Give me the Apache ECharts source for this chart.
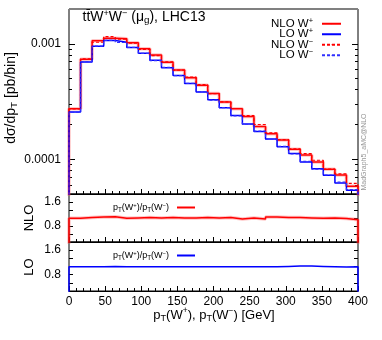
<!DOCTYPE html>
<html>
<head>
<meta charset="utf-8">
<script src="https://cdn.jsdelivr.net/npm/echarts@6/dist/echarts.min.js"></script>
<style>
html, body { margin: 0; padding: 0; background: #fff; }
#chart { width: 382px; height: 340px; }
</style>
</head>
<body>
<div id="chart"></div>
<script>
// 25 bins of 16 GeV
const binEdges = [0, 16, 32, 48, 64, 80, 96, 112, 128, 144, 160, 176, 192, 208, 224, 240, 256, 272, 288, 304, 320, 336, 352, 368, 384, 400];

// dsigma/dpT [pb/bin]
const nloWplus = [2.73e-4, 7.36e-4, 1.062e-3, 1.117e-3, 1.106e-3, 1.020e-3, 9.04e-4, 8.01e-4, 6.92e-4, 5.92e-4, 5.07e-4, 4.38e-4, 3.70e-4, 3.13e-4, 2.74e-4, 2.35e-4, 1.92e-4, 1.66e-4, 1.47e-4, 1.22e-4, 1.09e-4, 9.47e-5, 8.18e-5, 7.29e-5, 5.84e-5];
const loWplus = [2.57e-4, 6.96e-4, 9.51e-4, 1.067e-3, 1.030e-3, 9.28e-4, 8.29e-4, 7.19e-4, 6.21e-4, 5.32e-4, 4.53e-4, 3.83e-4, 3.28e-4, 2.79e-4, 2.39e-4, 2.02e-4, 1.74e-4, 1.50e-4, 1.28e-4, 1.12e-4, 9.46e-5, 8.28e-5, 7.25e-5, 6.24e-5, 5.39e-5];
const nloWminus = [2.73e-4, 7.39e-4, 1.031e-3, 1.151e-3, 1.095e-3, 1.010e-3, 8.95e-4, 7.90e-4, 6.96e-4, 5.92e-4, 5.14e-4, 4.42e-4, 3.69e-4, 3.14e-4, 2.75e-4, 2.39e-4, 2.00e-4, 1.69e-4, 1.48e-4, 1.23e-4, 1.12e-4, 9.80e-5, 8.23e-5, 7.48e-5, 6.17e-5];
const loWminus = [2.55e-4, 7.00e-4, 9.55e-4, 1.070e-3, 1.025e-3, 9.30e-4, 8.25e-4, 7.15e-4, 6.25e-4, 5.30e-4, 4.55e-4, 3.85e-4, 3.25e-4, 2.80e-4, 2.37e-4, 2.00e-4, 1.75e-4, 1.49e-4, 1.29e-4, 1.11e-4, 9.60e-5, 8.20e-5, 7.30e-5, 6.35e-5, 5.45e-5];

// pT(W+)/pT(W-) ratios
const nloRatio = [1.06, 1.08, 1.10, 1.11, 1.06, 1.07, 1.08, 1.07, 1.08, 1.07, 1.07, 1.08, 1.07, 1.08, 1.03, 1.07, 1.03, 1.10, 1.08, 1.08, 1.07, 1.06, 1.07, 1.05, 1.01];
const loRatio = [1.06, 1.06, 1.06, 1.07, 1.06, 1.06, 1.06, 1.06, 1.06, 1.06, 1.06, 1.06, 1.06, 1.06, 1.06, 1.06, 1.06, 1.06, 1.07, 1.08, 1.08, 1.07, 1.06, 1.05, 1.06];

const mainTicks = [-4, -3];
const minorTicks = [5, 6, 7, 8, 9].map(k => Math.log10(k * 1e-5))
  .concat([2, 3, 4, 5, 6, 7, 8, 9].map(k => Math.log10(k * 1e-4)));
const ratioLabels = ['0.8', '1.6'];

const FONT = '"Liberation Sans", Arial, sans-serif';
const richSup = (size) => ({
  sup: { fontSize: size * 0.65, lineHeight: size * 0.65, verticalAlign: 'top', fontFamily: FONT, color: '#000' },
  sub: { fontSize: size * 0.7, lineHeight: size * 0.7, verticalAlign: 'bottom', fontFamily: FONT, color: '#000' }
});

// histogram outline, dropping to the floor at both ends
function steps(vals, f, low) {
  const pts = [[binEdges[0], low]];
  vals.forEach((v, i) => pts.push([binEdges[i], f(v)]));
  pts.push([binEdges[binEdges.length - 1], low]);
  return pts;
}
const lg = v => Math.log10(v);
const id = v => v;

function hist(name, data, axis, color, width, type, z) {
  return {
    name: name, type: 'line', step: 'end', data: data,
    xAxisIndex: axis[0], yAxisIndex: axis[1],
    symbol: 'none', animation: false, z: z,
    itemStyle: { color: color },
    lineStyle: { color: color, width: width, type: type }
  };
}

const xBase = {
  type: 'value', min: 0, max: 400, interval: 50,
  axisLine: { show: true, lineStyle: { color: '#000', width: 1 } },
  axisTick: { inside: true, length: 5, lineStyle: { color: '#000' } },
  minorTick: { show: true, splitNumber: 5, length: 3, lineStyle: { color: '#000' } },
  splitLine: { show: false },
  axisLabel: { show: false }
};

const yMainMin = Math.log10(5e-5), yMainMax = Math.log10(2e-3);
function mainY(pos, ticks, len, labels) {
  return {
    type: 'value', gridIndex: 0, position: pos, min: yMainMin, max: yMainMax,
    axisLine: { show: false },
    splitLine: { show: false },
    axisTick: { show: true, inside: true, length: len, customValues: ticks, lineStyle: { color: '#000' } },
    axisLabel: labels ? {
      show: true, customValues: mainTicks, margin: 8, fontSize: 12, fontFamily: FONT, color: '#000',
      formatter: v => (Math.abs(v + 3) < 1e-6 ? '0.001' : '0.0001')
    } : { show: false }
  };
}
function ratioY(grid, pos, labels) {
  return {
    type: 'value', gridIndex: grid, position: pos,
    min: 0.8 / 3, max: 5.6 / 3, interval: 0.8 / 3,
    axisLine: { show: false },
    splitLine: { show: false },
    axisTick: { inside: true, length: 4, lineStyle: { color: '#000' } },
    axisLabel: labels ? {
      show: true, margin: 8, fontSize: 12, fontFamily: FONT, color: '#000',
      formatter: v => {
        for (const s of ratioLabels) if (Math.abs(v - parseFloat(s)) < 0.01) return s;
        return '';
      }
    } : { show: false }
  };
}

const chart = echarts.init(document.getElementById('chart'));
const ratioName = 'p{sub|T}(W{sup|+})/p{sub|T}(W{sup|−})';

function textEl(txt, x, y, size, rot, extra) {
  return Object.assign({
    type: 'text', x: x, y: y, rotation: rot, z: 100,
    style: {
      text: txt, font: size + 'px ' + FONT, fill: '#000', lineHeight: size + 3,
      align: 'center', verticalAlign: 'middle', rich: richSup(size)
    }
  }, extra || {});
}

chart.setOption({
  backgroundColor: '#fff',
  animation: false,
  grid: [
    { left: 69, right: 24, top: 9, height: 185, show: true, borderColor: '#000', borderWidth: 1 },
    { left: 69, right: 24, top: 194, height: 48, show: true, borderColor: '#000', borderWidth: 1 },
    { left: 69, right: 24, top: 242, height: 49, show: true, borderColor: '#000', borderWidth: 1 }
  ],
  xAxis: [
    Object.assign({}, xBase, { gridIndex: 0 }),
    Object.assign({}, xBase, { gridIndex: 1 }),
    Object.assign({}, xBase, { gridIndex: 2, axisLabel: { show: true, margin: 5, fontSize: 12, fontFamily: FONT, color: '#000' } })
  ],
  yAxis: [
    mainY('left', mainTicks, 6, true),
    mainY('left', minorTicks, 3, false),
    mainY('right', mainTicks, 6, false),
    mainY('right', minorTicks, 3, false),
    ratioY(1, 'left', true),
    ratioY(1, 'right', false),
    ratioY(2, 'left', true),
    ratioY(2, 'right', false)
  ],
  legend: [
    {
      data: ['NLO W+', 'LO W+', 'NLO W−', 'LO W−'],
      orient: 'vertical', align: 'right', right: 35, top: 12,
      itemWidth: 19, itemHeight: 1, itemGap: -3, selectedMode: false,
      formatter: n => n.replace(/W([+−])/, 'W{sup|$1}'),
      textStyle: { fontSize: 11.5, fontFamily: FONT, color: '#000', lineHeight: 13.5, padding: [0, 4, 0, 0], rich: richSup(11.5) }
    },
    {
      data: ['ratioNLO'], orient: 'horizontal', align: 'right', left: 108, top: 197,
      itemWidth: 18, itemHeight: 1, selectedMode: false,
      formatter: () => ratioName,
      textStyle: { fontSize: 9, fontFamily: FONT, color: '#000', lineHeight: 11, padding: [0, 3, 0, 0], rich: richSup(9) }
    },
    {
      data: ['ratioLO'], orient: 'horizontal', align: 'right', left: 108, top: 245,
      itemWidth: 18, itemHeight: 1, selectedMode: false,
      formatter: () => ratioName,
      textStyle: { fontSize: 9, fontFamily: FONT, color: '#000', lineHeight: 11, padding: [0, 3, 0, 0], rich: richSup(9) }
    }
  ],
  series: [
    hist('nloBand', steps(nloWplus, lg, -6), [0, 0], 'rgba(255,90,90,0.35)', 3.5, 'solid', 1),
    hist('NLO W+', steps(nloWplus, lg, -6), [0, 0], '#ff0000', 1.5, 'solid', 2),
    hist('LO W+', steps(loWplus, lg, -6), [0, 0], '#0000ff', 1.5, 'solid', 3),
    hist('NLO W−', steps(nloWminus, lg, -6), [0, 0], '#ff0000', 1.2, [3, 2], 4),
    hist('LO W−', steps(loWminus, lg, -6), [0, 0], '#3030ff', 1.2, [3, 2], 5),
    hist('nloRatioBand', steps(nloRatio, id, 0), [1, 4], 'rgba(255,90,90,0.35)', 3.5, 'solid', 1),
    hist('ratioNLO', steps(nloRatio, id, 0), [1, 4], '#ff0000', 1.5, 'solid', 2),
    hist('ratioLO', steps(loRatio, id, 0), [2, 6], '#0000ff', 1.5, 'solid', 2)
  ],
  graphic: [
    { type: 'line', shape: { x1: 69, y1: 9, x2: 358, y2: 9 }, style: { stroke: '#808080', lineWidth: 2 }, z: 100 },
    textEl('tt\u0304W{sup|+}W{sup|−} (μ{sub|g}), LHC13', 144, 17, 14, 0),
    textEl('dσ/dp{sub|T} [pb/bin]', 11, 98, 14, Math.PI / 2),
    textEl('NLO', 29, 218, 13, Math.PI / 2),
    textEl('LO', 29, 267, 13, Math.PI / 2),
    textEl('p{sub|T}(W{sup|+}), p{sub|T}(W{sup|−}) [GeV]', 214, 315, 13, 0),
    {
      type: 'text', x: 364, y: 152, rotation: Math.PI / 2, z: 100,
      style: { text: 'MadGraph5_aMC@NLO', font: '7px ' + FONT, fill: '#999', align: 'center', verticalAlign: 'middle' }
    }
  ]
});
</script>
</body>
</html>
